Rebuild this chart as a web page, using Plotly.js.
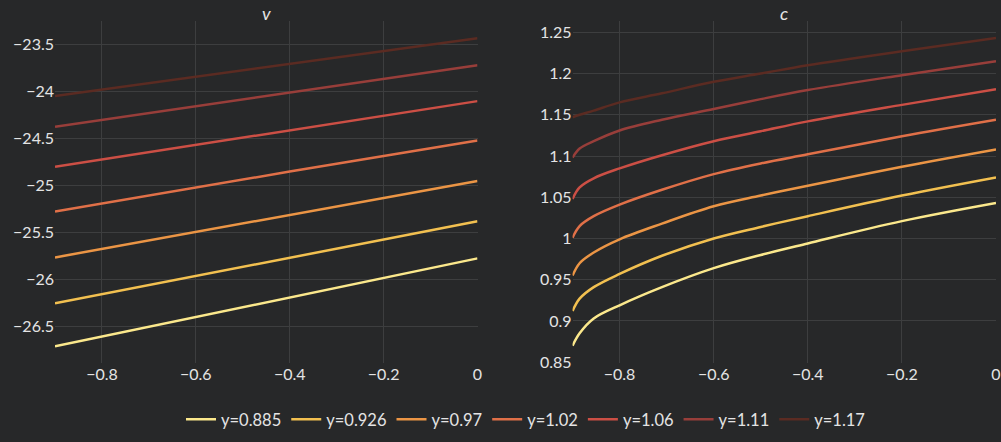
<!DOCTYPE html>
<html>
<head>
<meta charset="utf-8">
<script src="https://cdn.plot.ly/plotly-3.0.1.min.js"></script>
<style>html,body{margin:0;padding:0;background:#272829;}</style>
</head>
<body>
<div id="chart" style="width:1001px;height:442px;"></div>
<script>
const seriesNames = ["y=0.885", "y=0.926", "y=0.97", "y=1.02", "y=1.06", "y=1.11", "y=1.17"];
const colors = ["#fbe88c", "#f2c050", "#eb9545", "#e07048", "#cc4f45", "#983e3a", "#5b2b22"];

// Panel v: straight lines
const xV = [-0.9, -0.4, 0];
const v_0885 = [-26.711, -26.19, -25.774];
const v_0926 = [-26.253, -25.77, -25.38];
const v_097  = [-25.764, -25.31, -24.951];
const v_102  = [-25.275, -24.85, -24.52];
const v_106  = [-24.80, -24.41, -24.10];
const v_111  = [-24.374, -24.01, -23.718];
const v_117  = [-24.046, -23.70, -23.43];

// Panel c: curves
const xC = [-0.9, -0.885, -0.855, -0.8, -0.71, -0.6, -0.5, -0.4, -0.2, 0];
const c_0885 = [0.870, 0.885, 0.903, 0.919, 0.941, 0.964, 0.980, 0.994, 1.021, 1.043];
const c_0926 = [0.912, 0.927, 0.941, 0.957, 0.979, 1.000, 1.014, 1.027, 1.052, 1.074];
const c_097  = [0.955, 0.970, 0.983, 0.999, 1.018, 1.039, 1.052, 1.064, 1.087, 1.108];
const c_102  = [1.001, 1.015, 1.027, 1.041, 1.059, 1.078, 1.091, 1.102, 1.124, 1.144];
const c_106  = [1.048, 1.062, 1.073, 1.085, 1.101, 1.118, 1.130, 1.142, 1.162, 1.181];
const c_111  = [1.098, 1.109, 1.118, 1.131, 1.144, 1.157, 1.169, 1.180, 1.198, 1.215];
const c_117  = [1.147, 1.150, 1.155, 1.165, 1.176, 1.190, 1.200, 1.210, 1.227, 1.243];

const vSeries = [v_0885, v_0926, v_097, v_102, v_106, v_111, v_117];
const cSeries = [c_0885, c_0926, c_097, c_102, c_106, c_111, c_117];

const traces = [];
seriesNames.forEach((name, i) => {
  traces.push({
    x: xV, y: vSeries[i], type: 'scatter', mode: 'lines', name: name,
    legendgroup: name, showlegend: true,
    line: {color: colors[i], width: 2.5}, xaxis: 'x', yaxis: 'y'
  });
  traces.push({
    x: xC, y: cSeries[i], type: 'scatter', mode: 'lines', name: name,
    legendgroup: name, showlegend: false,
    line: {color: colors[i], width: 2.5, shape: 'spline', smoothing: 1}, xaxis: 'x2', yaxis: 'y2'
  });
});

const gridColor = '#3d3e3f';
const textColor = '#e4e4e4';
const axisCommon = {
  gridcolor: gridColor, zeroline: false, showline: false, ticks: '',
  tickfont: {color: textColor, size: 16}
};

const layout = {
  width: 1001, height: 442,
  paper_bgcolor: '#272829', plot_bgcolor: '#272829',
  font: {family: 'Lato, sans-serif', color: textColor, size: 16},
  margin: {l: 55, r: 5, t: 21, b: 75},
  showlegend: true,
  legend: {orientation: 'h', x: 0.5, xanchor: 'center', y: -0.2168, yanchor: 'bottom',
           font: {size: 16.5, color: textColor}, bgcolor: 'rgba(0,0,0,0)'},
  xaxis: Object.assign({}, axisCommon, {domain: [0, 0.449], range: [-0.9, 0], dtick: 0.2, tick0: 0}),
  yaxis: Object.assign({}, axisCommon, {range: [-26.888, -23.247], dtick: 0.5, tick0: 0}),
  xaxis2: Object.assign({}, axisCommon, {domain: [0.550, 1], range: [-0.9, 0], dtick: 0.2, tick0: 0, anchor: 'y2'}),
  yaxis2: Object.assign({}, axisCommon, {range: [0.849, 1.2637], dtick: 0.05, tick0: 0, anchor: 'x2'}),
  annotations: [
    {text: '<i>v</i>', xref: 'paper', yref: 'paper', x: 0.2245, y: 1.024, xanchor: 'center', yanchor: 'middle',
     showarrow: false, font: {size: 18, color: textColor, style: 'italic'}},
    {text: '<i>c</i>', xref: 'paper', yref: 'paper', x: 0.775, y: 1.024, xanchor: 'center', yanchor: 'middle',
     showarrow: false, font: {size: 18, color: textColor, style: 'italic'}}
  ]
};

Plotly.newPlot('chart', traces, layout, {displayModeBar: false, staticPlot: true});
</script>
</body>
</html>
